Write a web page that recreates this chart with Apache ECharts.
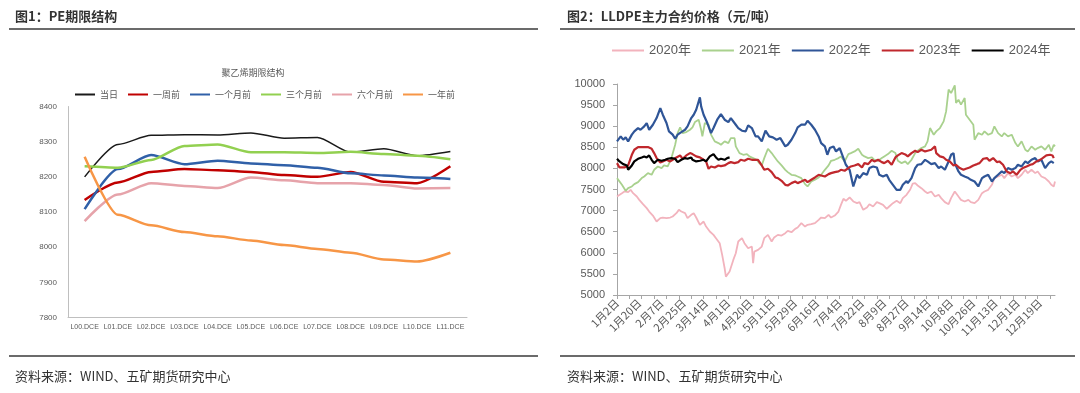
<!DOCTYPE html>
<html>
<head>
<meta charset="utf-8">
<script src="https://cdn.jsdelivr.net/npm/echarts@6/dist/echarts.min.js"></script>
<style>
html,body{margin:0;padding:0;background:#fff;}
#c{width:1080px;height:393px;}
</style>
</head>
<body>
<div id="c"></div>
<script>
// ---------- Left chart: PE term structure ----------
const termCats = ['L00.DCE','L01.DCE','L02.DCE','L03.DCE','L04.DCE','L05.DCE','L06.DCE','L07.DCE','L08.DCE','L09.DCE','L10.DCE','L11.DCE'];
const today     = [8200, 8292, 8318, 8320, 8319, 8325, 8310, 8312, 8270, 8280, 8260, 8272];
const weekAgo   = [8134, 8184, 8214, 8222, 8219, 8214, 8205, 8200, 8214, 8186, 8182, 8230];
const month1Ago = [8108, 8222, 8262, 8236, 8246, 8238, 8233, 8226, 8210, 8204, 8198, 8194];
const month3Ago = [8230, 8226, 8248, 8288, 8292, 8270, 8270, 8268, 8271, 8265, 8260, 8250];
const month6Ago = [8074, 8150, 8182, 8174, 8168, 8198, 8190, 8182, 8182, 8177, 8167, 8168];
const yearAgo   = [8257, 8092, 8062, 8043, 8031, 8019, 8006, 7995, 7984, 7965, 7959, 7984];

// ---------- Right chart: LLDPE main contract price ----------
// x axis: calendar days (leap year) from 1月2日, with exchange holidays removed
const monthLengths = [31,29,31,30,31,30,31,31,30,31,30,31];
const holidays = ['4月5日','5月1日','5月2日','5月3日','10月1日','10月2日','10月3日','10月4日','10月5日','10月6日'];
const dayCats = [];
for (let m = 1; m <= 12; m++) {
  for (let d = 1; d <= monthLengths[m-1]; d++) {
    if (m === 1 && d === 1) continue;
    const s = m + '月' + d + '日';
    if (holidays.indexOf(s) < 0) dayCats.push(s);
  }
}
// [day index, price]
const y2020 = [[0,7334],[4,7413],[6,7453],[9,7437],[11,7492],[13,7413],[16,7334],[18,7255],[21,7152],[24,7058],[26,6978],[29,6883],[32,6741],[35,6820],[37,6836],[40,6820],[43,6836],[45,6860],[48,6939],[50,7018],[52,6978],[55,6939],[57,6820],[60,6899],[62,6939],[64,6836],[67,6662],[70,6741],[72,6622],[75,6504],[78,6425],[80,6346],[83,6227],[85,5950],[87,5634],[88,5436],[91,5555],[94,5831],[96,5990],[98,6267],[101,6346],[103,6227],[106,6108],[109,6148],[110,5752],[111,6029],[114,6069],[117,6148],[119,6346],[122,6425],[125,6267],[127,6362],[130,6425],[133,6409],[136,6464],[138,6520],[141,6488],[144,6567],[146,6599],[149,6702],[152,6622],[154,6662],[157,6678],[160,6702],[163,6781],[165,6836],[168,6820],[171,6899],[173,6836],[176,6883],[179,6978],[181,7137],[183,7279],[185,7232],[188,7311],[191,7216],[194,7176],[196,7200],[199,7018],[202,7074],[204,7152],[207,7097],[210,7200],[212,7176],[215,7137],[218,7042],[220,7097],[223,7176],[226,7232],[229,7176],[231,7295],[234,7374],[237,7500],[239,7640],[241,7651],[243,7595],[246,7532],[249,7453],[251,7413],[254,7453],[257,7334],[260,7374],[262,7295],[265,7200],[268,7152],[270,7295],[273,7453],[276,7334],[278,7255],[281,7216],[284,7255],[286,7200],[289,7176],[292,7255],[295,7413],[297,7453],[300,7492],[303,7611],[305,7770],[308,7809],[311,7849],[313,7770],[316,7888],[319,7809],[322,7849],[324,7770],[327,7849],[330,7967],[332,7888],[335,7967],[338,7888],[340,7928],[343,7809],[346,7770],[349,7690],[351,7611],[353,7572],[354,7690]];
const y2021 = [[0,7770],[4,7611],[7,7469],[9,7532],[12,7572],[14,7627],[17,7674],[20,7770],[22,7809],[25,7888],[28,7849],[30,7967],[33,8046],[36,8007],[38,8070],[41,8046],[44,8244],[47,8560],[49,8837],[51,8972],[53,8837],[56,8860],[59,8916],[61,8972],[63,9098],[66,9154],[68,8916],[69,8758],[71,9075],[74,9035],[76,8800],[79,8640],[82,8600],[84,8560],[87,8640],[90,8600],[92,8719],[95,8719],[96,8521],[99,8363],[102,8323],[105,8339],[107,8284],[110,8244],[113,8204],[115,8125],[117,8070],[119,8244],[122,8465],[125,8363],[127,8284],[130,8165],[133,8070],[136,7967],[138,7912],[141,7849],[144,7833],[146,7809],[149,7770],[152,7627],[154,7572],[157,7690],[160,7730],[163,7785],[165,7849],[168,7967],[171,8070],[173,8181],[176,8204],[179,8244],[181,8284],[184,8165],[187,8339],[189,8363],[192,8402],[195,8465],[198,8323],[200,8284],[203,8244],[206,8260],[208,8204],[211,8181],[214,8244],[216,8284],[219,8339],[222,8418],[225,8363],[227,8181],[230,8125],[233,8165],[235,8102],[238,8204],[241,8363],[243,8418],[246,8481],[249,8521],[251,8640],[253,8956],[256,8798],[258,8877],[261,8956],[264,9114],[266,9351],[268,9866],[270,9786],[273,9968],[274,9549],[276,9628],[278,9510],[281,9668],[282,9272],[285,9154],[288,9035],[289,8679],[292,8837],[295,8798],[297,8877],[300,8798],[303,8837],[305,8995],[308,8837],[311,8758],[313,8837],[316,8758],[319,8798],[322,8600],[324,8521],[327,8640],[330,8442],[332,8402],[335,8521],[338,8442],[340,8481],[343,8521],[346,8442],[349,8560],[351,8402],[353,8560],[354,8521]];
const y2022 = [[0,8640],[3,8760],[5,8680],[7,8735],[9,8640],[12,8800],[14,8877],[17,8956],[19,8916],[22,8995],[24,9075],[26,8916],[29,9035],[32,9193],[35,9430],[37,9272],[40,9075],[42,8877],[45,8800],[47,8703],[49,8800],[52,8860],[55,8916],[57,8995],[60,9193],[62,9272],[64,9390],[67,9684],[68,9470],[70,9272],[73,9075],[76,8837],[78,8956],[81,9154],[84,9288],[87,9154],[90,9098],[92,9193],[96,9035],[98,8956],[101,8893],[104,8877],[106,9019],[109,8956],[112,8758],[114,8758],[117,8640],[120,8893],[123,8758],[126,8735],[129,8679],[132,8718],[136,8521],[138,8560],[141,8679],[144,8837],[146,8972],[149,9035],[152,9035],[154,9130],[157,9035],[160,8916],[163,8758],[165,8600],[168,8521],[170,8323],[172,8481],[175,8521],[177,8402],[180,8481],[183,8244],[185,8086],[188,7967],[191,7572],[194,7849],[196,7770],[199,7888],[202,7849],[204,8007],[207,8046],[210,8022],[212,7849],[215,7809],[218,7849],[220,7730],[223,7611],[226,7492],[229,7492],[231,7611],[234,7700],[235,7651],[238,7770],[241,8007],[243,8086],[246,8102],[249,8204],[251,8165],[254,8102],[257,8125],[260,8007],[262,8046],[265,7967],[268,8165],[270,8323],[272,8363],[273,8125],[276,7928],[278,7849],[281,7809],[284,7770],[286,7730],[289,7690],[292,7572],[295,7770],[297,7809],[300,7849],[303,7690],[305,7770],[308,7849],[311,7928],[313,7888],[316,8007],[319,7967],[322,8007],[324,8086],[327,8046],[330,8165],[332,8125],[335,8204],[338,8244],[340,8165],[343,8204],[346,8007],[349,8125],[351,8165],[353,8125]];
const y2023 = [[0,8125],[2,8022],[6,8022],[9,8070],[12,8323],[14,8442],[17,8505],[21,8505],[25,8505],[28,8465],[30,8363],[32,8244],[35,8141],[37,8165],[40,8204],[43,8165],[45,8204],[48,8260],[51,8307],[53,8228],[56,8307],[59,8363],[61,8339],[64,8284],[67,8260],[70,8204],[72,8165],[74,7991],[76,8046],[79,8022],[82,8070],[84,8054],[87,8070],[90,8125],[92,8149],[95,8125],[98,8149],[100,8204],[103,8181],[106,8228],[109,8204],[111,8204],[114,8204],[117,8070],[119,7967],[122,7991],[125,7912],[128,7785],[130,7770],[133,7706],[136,7611],[138,7595],[141,7651],[144,7690],[146,7651],[149,7690],[152,7730],[154,7674],[157,7730],[160,7785],[163,7849],[165,7833],[168,7809],[171,7864],[173,7888],[176,7912],[179,7928],[181,7967],[184,7944],[187,8007],[189,8046],[192,8070],[195,8102],[198,8022],[200,8125],[203,8102],[206,8204],[208,8165],[211,8204],[214,8149],[216,8125],[219,8181],[222,8086],[225,8260],[227,8307],[230,8363],[233,8330],[235,8284],[238,8363],[241,8418],[243,8386],[246,8442],[249,8402],[251,8418],[254,8442],[257,8521],[258,8363],[261,8284],[264,8260],[266,8204],[269,8165],[272,8070],[274,8086],[277,8007],[280,7967],[282,7991],[285,8022],[288,8070],[291,8102],[293,8125],[296,8228],[299,8244],[301,8181],[304,8244],[307,8149],[309,8165],[312,8086],[315,7928],[318,7888],[320,7928],[323,7849],[326,7967],[328,8007],[331,8046],[334,8086],[336,8102],[339,8165],[342,8204],[344,8244],[347,8307],[350,8323],[352,8307],[353,8244]];
const y2024 = [[0,8228],[2,8165],[5,8102],[8,8070],[9,7967],[12,8070],[14,8165],[17,8228],[20,8260],[22,8284],[24,8260],[26,8307],[28,8204],[30,8125],[33,8204],[36,8181],[39,8204],[41,8228],[44,8244],[47,8228],[49,8149],[52,8204],[55,8244],[57,8228],[60,8260],[61,8204],[64,8165],[67,8181],[70,8204],[72,8165],[75,8284],[78,8339],[80,8260],[82,8204],[84,8228],[87,8204],[89,8244],[91,8260]];

const FONT = '"Liberation Sans", "Noto Sans CJK SC", sans-serif';
const CJK = '"Noto Sans CJK SC", sans-serif';
const chart = echarts.init(document.getElementById('c'), null, {renderer: 'canvas'});

function lineS(name, data, color, width, xi, smooth) {
  return {
    name: name, type: 'line', data: data, xAxisIndex: xi, yAxisIndex: xi,
    symbol: 'none', smooth: smooth, smoothMonotone: smooth ? 'x' : undefined,
    lineStyle: {color: color, width: width}, itemStyle: {color: color},
    emphasis: {disabled: true}, animation: false
  };
}
const plain = function (v) { return String(v); };

const option = {
  animation: false,
  textStyle: {fontFamily: FONT},
  graphic: [
    {type: 'text', x: 15, y: 16, style: {text: '图1：PE期限结构', font: 'bold 13px ' + CJK, fill: '#333', verticalAlign: 'middle'}},
    {type: 'text', x: 567, y: 16, style: {text: '图2：LLDPE主力合约价格（元/吨）', font: 'bold 13px ' + CJK, fill: '#333', verticalAlign: 'middle'}},
    {type: 'line', shape: {x1: 9, y1: 29, x2: 538, y2: 29}, style: {stroke: '#3a3a3a', lineWidth: 1.5}},
    {type: 'line', shape: {x1: 560, y1: 29, x2: 1075, y2: 29}, style: {stroke: '#3a3a3a', lineWidth: 1.5}},
    {type: 'line', shape: {x1: 9, y1: 356, x2: 538, y2: 356}, style: {stroke: '#3a3a3a', lineWidth: 1.5}},
    {type: 'line', shape: {x1: 560, y1: 356, x2: 1075, y2: 356}, style: {stroke: '#3a3a3a', lineWidth: 1.5}},
    {type: 'text', x: 15, y: 376, style: {text: '资料来源：WIND、五矿期货研究中心', font: '13px ' + CJK, fill: '#333', verticalAlign: 'middle'}},
    {type: 'text', x: 567, y: 376, style: {text: '资料来源：WIND、五矿期货研究中心', font: '13px ' + CJK, fill: '#333', verticalAlign: 'middle'}},
    {type: 'text', x: 253, y: 73, style: {text: '聚乙烯期限结构', font: '9px ' + CJK, fill: '#595959', align: 'center', verticalAlign: 'middle'}}
  ],
  legend: [
    {
      data: ['当日','一周前','一个月前','三个月前','六个月前','一年前'],
      left: 70, top: 85, icon: 'rect', itemWidth: 20, itemHeight: 2, itemGap: 10,
      textStyle: {fontSize: 9, color: '#595959', fontFamily: CJK}, selectedMode: false
    },
    {
      data: ['2020年','2021年','2022年','2023年','2024年'],
      left: 607, top: 39, icon: 'rect', itemWidth: 32, itemHeight: 2, itemGap: 11,
      textStyle: {fontSize: 13, color: '#595959', fontFamily: FONT}, selectedMode: false
    }
  ],
  grid: [
    {left: 68, top: 106.5, width: 399, height: 211},
    {left: 617, top: 84, width: 438, height: 211}
  ],
  xAxis: [
    {
      type: 'category', gridIndex: 0, data: termCats, boundaryGap: true,
      axisLine: {lineStyle: {color: '#BFBFBF'}}, axisTick: {show: false},
      axisLabel: {fontSize: 7, color: '#595959', margin: 6, interval: 0}
    },
    {
      type: 'category', gridIndex: 1, data: dayCats, boundaryGap: false,
      axisLine: {lineStyle: {color: '#A6A6A6'}},
      axisTick: {interval: 9, length: 4, lineStyle: {color: '#A6A6A6'}},
      axisLabel: {interval: 17, rotate: 45, fontSize: 11, color: '#595959', margin: 6, fontFamily: CJK}
    }
  ],
  yAxis: [
    {
      type: 'value', gridIndex: 0, min: 7800, max: 8400, interval: 100,
      axisLine: {show: true, lineStyle: {color: '#BFBFBF'}}, axisTick: {show: false},
      splitLine: {show: false},
      axisLabel: {fontSize: 8, color: '#595959', margin: 11, formatter: plain}
    },
    {
      type: 'value', gridIndex: 1, min: 5000, max: 10000, interval: 500,
      axisLine: {show: true, lineStyle: {color: '#A6A6A6'}},
      axisTick: {show: true, length: 4, lineStyle: {color: '#A6A6A6'}},
      splitLine: {show: false},
      axisLabel: {fontSize: 11, color: '#595959', margin: 12, formatter: plain}
    }
  ],
  series: [
    lineS('当日', today, '#1a1a1a', 1.5, 0, 0.25),
    lineS('一周前', weekAgo, '#C00000', 2.5, 0, 0.25),
    lineS('一个月前', month1Ago, '#3060A8', 2.5, 0, 0.25),
    lineS('三个月前', month3Ago, '#92D050', 2.5, 0, 0.25),
    lineS('六个月前', month6Ago, '#E6A3AA', 2.5, 0, 0.25),
    lineS('一年前', yearAgo, '#F79646', 2.5, 0, 0.25),
    lineS('2020年', y2020, '#F2B3BD', 1.8, 1, false),
    lineS('2021年', y2021, '#A9D18E', 1.8, 1, false),
    lineS('2022年', y2022, '#2F5597', 2.2, 1, false),
    lineS('2023年', y2023, '#C0282D', 2.2, 1, false),
    lineS('2024年', y2024, '#000000', 2.2, 1, false)
  ]
};
chart.setOption(option);
</script>
</body>
</html>
